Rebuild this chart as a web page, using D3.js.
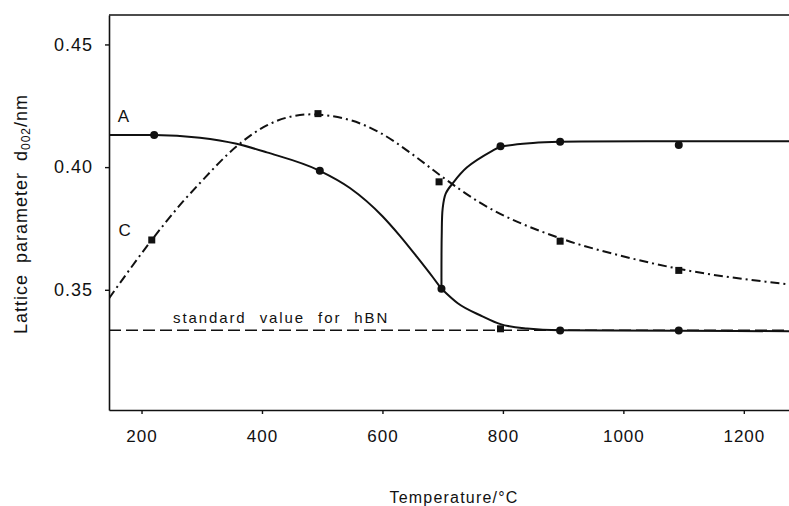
<!DOCTYPE html>
<html>
<head>
<meta charset="utf-8">
<script src="https://cdn.jsdelivr.net/npm/d3@7"></script>
<style>
  body { margin: 0; background: #fff; }
  svg { display: block; font-family: "Liberation Sans", Arial, sans-serif; }
</style>
</head>
<body>
<svg id="chart" width="789" height="506"></svg>
<script>
const CHART_WIDTH = 789
const CHART_HEIGHT = 506
const MARGIN = {left: 109, right: 0, top: 15, bottom: 96}

// axes
const tempTicks = [200, 400, 600, 800, 1000, 1200]
const latticeTicks = [0.35, 0.40, 0.45]
const tempDomain = [146, 1275]
const latticeDomain = [0.301, 0.462]
const standardHBN = 0.3335

// measured points (temperature °C, d002 nm)
const circlePoints = [[221, 0.4131], [496, 0.3985], [698, 0.3504], [796, 0.4085], [895, 0.4103], [1092, 0.4090], [895, 0.3334], [1092, 0.3334]]
const squarePoints = [[217, 0.3703], [493, 0.4218], [694, 0.3940], [895, 0.3698], [1092, 0.3579], [796, 0.3341]]

// curve traces
const curveA = [[146, 0.4131], [221, 0.4131], [297, 0.4120], [358, 0.4095], [408, 0.4060], [496, 0.3985], [546, 0.3915], [600, 0.3800], [629, 0.3720], [657, 0.3635], [684, 0.3550], [698, 0.3504]]
const curveLower = [[698, 0.3504], [725, 0.3445], [766, 0.3392], [796, 0.3360], [840, 0.3342], [895, 0.3335], [1092, 0.3333], [1275, 0.3331]]
const curveUpper = [[698, 0.3504], [698.4, 0.3720], [700, 0.3832], [705, 0.3892], [717, 0.3935], [740, 0.3998], [783, 0.4067], [796, 0.4082], [850, 0.4098], [895, 0.4103], [1092, 0.4105], [1275, 0.4105]]
const curveC = [[146, 0.3465], [217, 0.3703], [269, 0.3860], [297, 0.3935], [358, 0.4085], [408, 0.4170], [480, 0.4215], [546, 0.4192], [596, 0.4140], [651, 0.4050], [694, 0.3970], [762, 0.3855], [895, 0.3710], [994, 0.3640], [1093, 0.3585], [1275, 0.3522]]

const svg = d3.select("#chart")
svg.append("rect").attr("width", CHART_WIDTH).attr("height", CHART_HEIGHT).attr("fill", "#fff")

const xScale = d3.scaleLinear()
  .domain(tempDomain)
  .range([MARGIN.left, CHART_WIDTH - MARGIN.right])

const yScale = d3.scaleLinear()
  .domain(latticeDomain)
  .range([CHART_HEIGHT - MARGIN.bottom, MARGIN.top])

const bottomY = CHART_HEIGHT - MARGIN.bottom

svg.append("clipPath").attr("id", "plot-clip")
  .append("rect")
  .attr("x", MARGIN.left).attr("y", MARGIN.top - 2)
  .attr("width", CHART_WIDTH - MARGIN.left).attr("height", bottomY - MARGIN.top + 2)

// frame top line
svg.append("line")
  .attr("x1", MARGIN.left).attr("x2", CHART_WIDTH)
  .attr("y1", MARGIN.top).attr("y2", MARGIN.top)
  .attr("stroke", "#111").attr("stroke-width", 1.6)

let xAxis = svg.append("g")
  .attr("transform", `translate(0, ${bottomY})`)
  .call(d3.axisBottom(xScale).tickValues(tempTicks).tickFormat(d3.format("d")).tickSize(4).tickSizeOuter(0).tickPadding(16))
xAxis.selectAll("text")
  .attr("font-size", 17).attr("letter-spacing", 1).attr("fill", "#111")
  .attr("font-family", "Liberation Sans, Arial, sans-serif")

let yAxis = svg.append("g")
  .attr("transform", `translate(${MARGIN.left}, 0)`)
  .call(d3.axisLeft(yScale).tickValues(latticeTicks).tickFormat(d3.format(".2f")).tickSize(4).tickSizeOuter(0).tickPadding(12))
yAxis.selectAll("text")
  .attr("font-size", 18).attr("letter-spacing", 1).attr("fill", "#111")
  .attr("font-family", "Liberation Sans, Arial, sans-serif")

svg.selectAll(".domain").attr("stroke", "#111").attr("stroke-width", 1.6)
svg.selectAll(".tick line").attr("stroke", "#111").attr("stroke-width", 1.4)

let plot = svg.append("g").attr("clip-path", "url(#plot-clip)")

// standard value line
plot.append("line")
  .attr("x1", MARGIN.left).attr("x2", CHART_WIDTH)
  .attr("y1", yScale(standardHBN)).attr("y2", yScale(standardHBN))
  .attr("stroke", "#111").attr("stroke-width", 1.3)
  .attr("stroke-dasharray", "12,5")

const line = d3.line()
  .x(d => xScale(d[0]))
  .y(d => yScale(d[1]))
  .curve(d3.curveMonotoneX)

const roundLine = d3.line()
  .x(d => xScale(d[0]))
  .y(d => yScale(d[1]))
  .curve(d3.curveCatmullRom.alpha(0.5))

plot.selectAll(".solid")
  .data([curveA, curveLower])
  .enter()
  .append("path")
  .attr("class", "solid")
  .attr("d", d => line(d))
  .attr("fill", "none")
  .attr("stroke", "#111")
  .attr("stroke-width", 2)

plot.append("path")
  .attr("d", roundLine(curveUpper))
  .attr("fill", "none")
  .attr("stroke", "#111")
  .attr("stroke-width", 2)

plot.append("path")
  .attr("d", line(curveC))
  .attr("fill", "none")
  .attr("stroke", "#111")
  .attr("stroke-width", 2)
  .attr("stroke-dasharray", "9,4,2,4")

plot.selectAll("circle")
  .data(circlePoints)
  .enter()
  .append("circle")
  .attr("cx", d => xScale(d[0]))
  .attr("cy", d => yScale(d[1]))
  .attr("r", 4)
  .attr("fill", "#111")

plot.selectAll(".sq")
  .data(squarePoints)
  .enter()
  .append("rect")
  .attr("class", "sq")
  .attr("x", d => xScale(d[0]) - 3.5)
  .attr("y", d => yScale(d[1]) - 3.5)
  .attr("width", 7)
  .attr("height", 7)
  .attr("fill", "#111")

// labels
svg.append("text")
  .attr("x", xScale(170)).attr("y", yScale(0.4182))
  .attr("text-anchor", "middle")
  .attr("font-size", 17).attr("fill", "#111")
  .text("A")

svg.append("text")
  .attr("x", xScale(172)).attr("y", yScale(0.3718))
  .attr("text-anchor", "middle")
  .attr("font-size", 17).attr("fill", "#111")
  .text("C")

svg.append("text")
  .attr("x", 173).attr("y", yScale(standardHBN) - 7)
  .attr("font-size", 15).attr("fill", "#111")
  .attr("letter-spacing", 1.9).attr("word-spacing", 7)
  .text("standard value for hBN")

svg.append("text")
  .attr("x", 454).attr("y", 503)
  .attr("text-anchor", "middle")
  .attr("font-size", 16).attr("fill", "#111")
  .attr("letter-spacing", 1.2)
  .text("Temperature/°C")

let yTitle = svg.append("text")
  .attr("transform", `translate(27, 214) rotate(-90)`)
  .attr("text-anchor", "middle")
  .attr("font-size", 18).attr("fill", "#111")
  .attr("letter-spacing", 1).attr("word-spacing", 5)
yTitle.append("tspan").text("Lattice parameter d")
yTitle.append("tspan").attr("font-size", 12).attr("dy", 3).text("002")
yTitle.append("tspan").attr("dy", -3).text("/nm")
</script>
</body>
</html>
